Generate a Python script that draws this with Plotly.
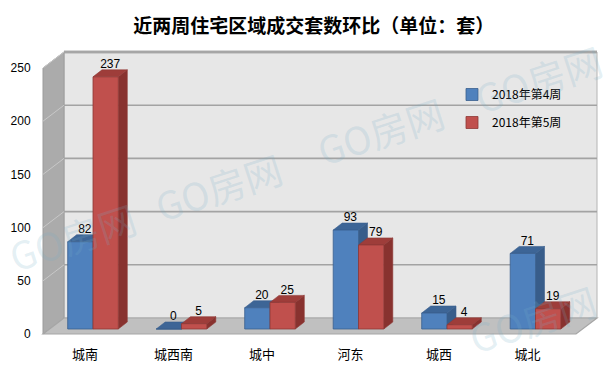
import plotly.graph_objects as go

# ---------------- data ----------------
categories = ["城南", "城西南", "城中", "河东", "城西", "城北"]
series_names = ["2018年第4周", "2018年第5周"]
week4 = [82, 0, 20, 93, 15, 71]
week5 = [237, 5, 25, 79, 4, 19]
y_ticks = [0, 50, 100, 150, 200, 250]
title_text = "近两周住宅区域成交套数环比（单位：套）"
watermark = "GO房网"

# ---------------- layout constants (pixels) ----------------
W, H = 615, 368
PL, PR, PT, PB = 38, 605, 40, 345          # plot area box
PX = 88.5                                  # px per category
K = 266 / 250                              # px per value unit
X0, Y0 = 85, 334                           # front plane origin (category 0, value 0)
XB, YB = 93, 329                           # bar plane origin
WALL_DX, WALL_DY = 21, 16                  # depth of the walls (px)
BAR_DX, BAR_DY = 9, 7                      # depth of bars (px)
BAR_W = 25.3                               # width of one bar (px)
WALL_TOP = 250

n = len(categories)
xr1 = [(PL - X0) / PX, (PR - X0) / PX]
yr1 = [(Y0 - PB) / K, (Y0 - PT) / K]
xr2 = [(PL - XB) / PX, (PR - XB) / PX]
yr2 = [(YB - PB) / K, (YB - PT) / K]

DX = WALL_DX / PX
DY = WALL_DY / K
bdx = BAR_DX / PX
bdy = BAR_DY / K
bw = BAR_W / PX

xl = (PL + 5 - X0) / PX          # front-left corner of the left wall
xr = (597 - WALL_DX - X0) / PX   # front-right end of floor

colors = {
    "front": ["#4F81BD", "#C0504D"],
    "top": ["#3D6596", "#9E3D3A"],
    "side": ["#385D8A", "#88322F"],
    "edge": ["#3A5F8E", "#8E3936"],
}


def path(pts):
    return "M " + " L ".join(f"{x:.4f},{y:.4f}" for x, y in pts) + " Z"


shapes = []
# back wall
shapes.append(dict(type="path", xref="x", yref="y", layer="below",
                   path=path([(xl + DX, DY), (xr + DX, DY), (xr + DX, WALL_TOP + DY), (xl + DX, WALL_TOP + DY)]),
                   fillcolor="#E7E7E7", line=dict(color="#B4B4B4", width=1)))
# top rim of back wall
shapes.append(dict(type="line", xref="x", yref="y", layer="below",
                   x0=xl + DX, x1=xr + DX, y0=WALL_TOP + DY, y1=WALL_TOP + DY,
                   line=dict(color="#B0B0B0", width=3)))
# left wall
shapes.append(dict(type="path", xref="x", yref="y", layer="below",
                   path=path([(xl, 0), (xl + DX, DY), (xl + DX, WALL_TOP + DY), (xl, WALL_TOP)]),
                   fillcolor="#ABABAB", line=dict(color="#9C9C9C", width=1)))
# gridlines on walls
for t in y_ticks[1:]:
    shapes.append(dict(type="line", xref="x", yref="y", layer="below",
                       x0=xl + DX, x1=xr + DX, y0=t + DY, y1=t + DY,
                       line=dict(color="#A3A3A3", width=1.6)))
    shapes.append(dict(type="line", xref="x", yref="y", layer="below",
                       x0=xl, x1=xl + DX, y0=t, y1=t + DY,
                       line=dict(color="#C8C8C8", width=1)))
# floor
shapes.append(dict(type="path", xref="x", yref="y", layer="below",
                   path=path([(xl, 0), (xr, 0), (xr + DX, DY), (xl + DX, DY)]),
                   fillcolor="#C0C0C0", line=dict(color="#A6A6A6", width=1.2)))

# bar top and side faces (computed from values in bar-axis units)
for s, vals in enumerate([week4, week5]):
    for i, v in enumerate(vals):
        x0 = i - bw if s == 0 else i
        x1 = x0 + bw
        shapes.append(dict(type="path", xref="x2", yref="y2", layer="below",
                           path=path([(x1, 0), (x1 + bdx, bdy), (x1 + bdx, v + bdy), (x1, v)]),
                           fillcolor=colors["side"][s], line=dict(color=colors["edge"][s], width=0.6)))
        shapes.append(dict(type="path", xref="x2", yref="y2", layer="below",
                           path=path([(x0, v), (x1, v), (x1 + bdx, v + bdy), (x0 + bdx, v + bdy)]),
                           fillcolor=colors["top"][s], line=dict(color=colors["edge"][s], width=0.6)))

fig = go.Figure()
xs = list(range(n))
for s, (name, vals) in enumerate(zip(series_names, [week4, week5])):
    fig.add_trace(go.Bar(
        x=xs, y=vals, name=name, xaxis="x2", yaxis="y2",
        marker=dict(color=colors["front"][s], line=dict(color=colors["edge"][s], width=0.8)),
        legendgroup=name,
    ))

for s, vals in enumerate([week4, week5]):
    off = -bw / 2 if s == 0 else bw / 2
    fig.add_trace(go.Scatter(
        x=[i + off + bdx / 2 for i in xs], y=[v + bdy * 0.8 for v in vals],
        xaxis="x2", yaxis="y2", mode="text", text=[str(v) for v in vals],
        textposition="top center", showlegend=False, cliponaxis=False, hoverinfo="skip",
        textfont=dict(family="Liberation Sans", size=12, color="#000000"),
    ))

# watermarks (kept fully inside the canvas)
wm_pos = [(72, 236), (218, 186), (380, 130), (538, 78), (532, 318)]
annotations = []
for (px_, py_) in wm_pos:
    annotations.append(dict(
        text=watermark, xref="paper", yref="paper", xanchor="center", yanchor="middle",
        x=(px_ - PL) / (PR - PL), y=(PB - py_) / (PB - PT),
        showarrow=False, textangle=-18,
        font=dict(family="Noto Sans CJK SC", size=38, color="rgba(120,175,200,0.2)"),
    ))

fig.update_layout(
    width=W, height=H,
    margin=dict(l=PL, r=W - PR, t=PT, b=H - PB, autoexpand=False),
    paper_bgcolor="white", plot_bgcolor="white",
    title=dict(text="<b>" + title_text + "</b>", x=0.51, xref="container", xanchor="center",
               y=1 - 26 / H, yanchor="middle", yref="container",
               font=dict(family="Noto Sans CJK SC", size=19, color="#000000")),
    barmode="group", bargap=1 - 2 * bw, bargroupgap=0,
    showlegend=True,
    legend=dict(x=(452 - PL) / (PR - PL), y=(PB - 80) / (PB - PT), xanchor="left", yanchor="top",
                bgcolor="rgba(0,0,0,0)", tracegroupgap=9, itemwidth=30,
                font=dict(family="Noto Sans CJK SC", size=12, color="#000000")),
    xaxis=dict(range=xr1, tickmode="array", tickvals=xs, ticktext=categories, automargin=False,
               showgrid=False, zeroline=False, showline=False, ticks="",
               tickfont=dict(family="Noto Sans CJK SC", size=13, color="#000000"), fixedrange=True),
    yaxis=dict(range=yr1, tickmode="array", tickvals=y_ticks, showgrid=False, zeroline=False,
               showline=False, ticks="outside", ticklen=4, tickcolor="rgba(0,0,0,0)", automargin=False,
               tickfont=dict(family="Liberation Sans", size=12, color="#000000"), fixedrange=True),
    xaxis2=dict(range=xr2, overlaying="x", anchor="y2", visible=False, fixedrange=True),
    yaxis2=dict(range=yr2, overlaying="y", anchor="x2", visible=False, fixedrange=True),
    shapes=shapes, annotations=annotations,
)

fig.write_html("out.html")
